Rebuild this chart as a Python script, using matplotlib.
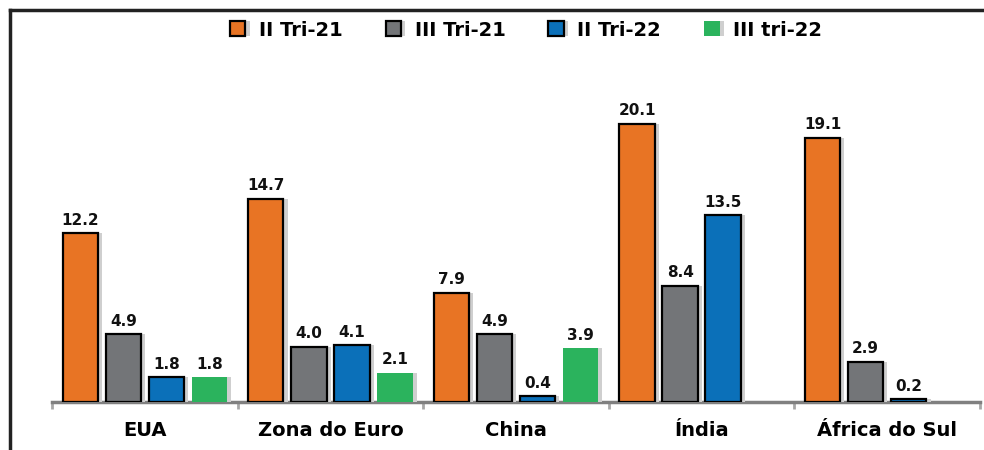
import numpy as np
import matplotlib.pyplot as plt
import matplotlib.patheffects as pe
from matplotlib.lines import Line2D

plt.rcParams['font.family'] = ['DejaVu Sans']
plt.rcParams['font.weight'] = 'bold'

# data
paises = ['EUA', 'Zona do Euro', 'China', 'Índia', 'África do Sul']
series = ['II Tri-21', 'III Tri-21', 'II Tri-22', 'III tri-22']
tri2_21 = [12.2, 14.7, 7.9, 20.1, 19.1]
tri3_21 = [4.9, 4.0, 4.9, 8.4, 2.9]
tri2_22 = [1.8, 4.1, 0.4, 13.5, 0.2]
tri3_22 = [1.8, 2.1, 3.9, np.nan, np.nan]

cores = ['#E87424', '#737578', '#0B70B9', '#2BB35D']
bordas = ['black', 'black', 'black', 'none']

W, H = 984, 450
fig = plt.figure(figsize=(W / 100, H / 100), dpi=100)
ax = fig.add_axes([52 / W, 48 / H, 928 / W, 342 / H])

x = np.arange(len(paises))
offsets = [-0.348, -0.116, 0.116, 0.348]
largura = 0.19

for vals, off, cor, borda, nome in zip([tri2_21, tri3_21, tri2_22, tri3_22],
                                        offsets, cores, bordas, series):
    vals = np.array(vals, dtype=float)
    bars = ax.bar(x + off, vals, largura, color=cor, edgecolor=borda,
                  linewidth=1.6, label=nome, zorder=3)
    for b in bars:
        b.set_path_effects([pe.SimplePatchShadow(offset=(3, 0), shadow_rgbFace='#cfcfcf', alpha=1),
                            pe.Normal()])
    for xi, v in zip(x + off, vals):
        if np.isnan(v):
            continue
        ax.annotate(f'{v:.1f}', (xi, v), xytext=(0, 4), textcoords='offset points',
                    ha='center', va='bottom', fontsize=11, fontweight='bold', color='#111111')

ax.set_xlim(-0.5, len(paises) - 0.5)
ax.set_ylim(0, 24.73)

for s in ['top', 'right', 'left']:
    ax.spines[s].set_visible(False)
ax.spines['bottom'].set_color('#808080')
ax.spines['bottom'].set_linewidth(2.5)
ax.set_yticks([])

ax.set_xticks(np.arange(len(paises) + 1) - 0.5)
ax.set_xticklabels([])
ax.tick_params(axis='x', which='major', length=5, width=2, color='#a8a8a8')
ax.set_xticks(x, minor=True)
ax.set_xticklabels(paises, minor=True, fontsize=14, fontweight='bold')
ax.tick_params(axis='x', which='minor', length=0, pad=14)

handles, labels = ax.get_legend_handles_labels()
fig.legend(handles, labels, loc='center', bbox_to_anchor=(526 / W, 1 - 30 / H), ncol=4,
           frameon=False, fontsize=14, handlelength=0.8, handleheight=0.8,
           columnspacing=2.2, handletextpad=0.7)

# moldura superior e esquerda
fig.add_artist(Line2D([10 / W, 1], [1 - 10 / H, 1 - 10 / H], color='#222222', lw=2.5,
                      transform=fig.transFigure))
fig.add_artist(Line2D([10 / W, 10 / W], [0, 1 - 10 / H], color='#222222', lw=2.5,
                      transform=fig.transFigure))

fig.savefig('out.png', dpi=100)
